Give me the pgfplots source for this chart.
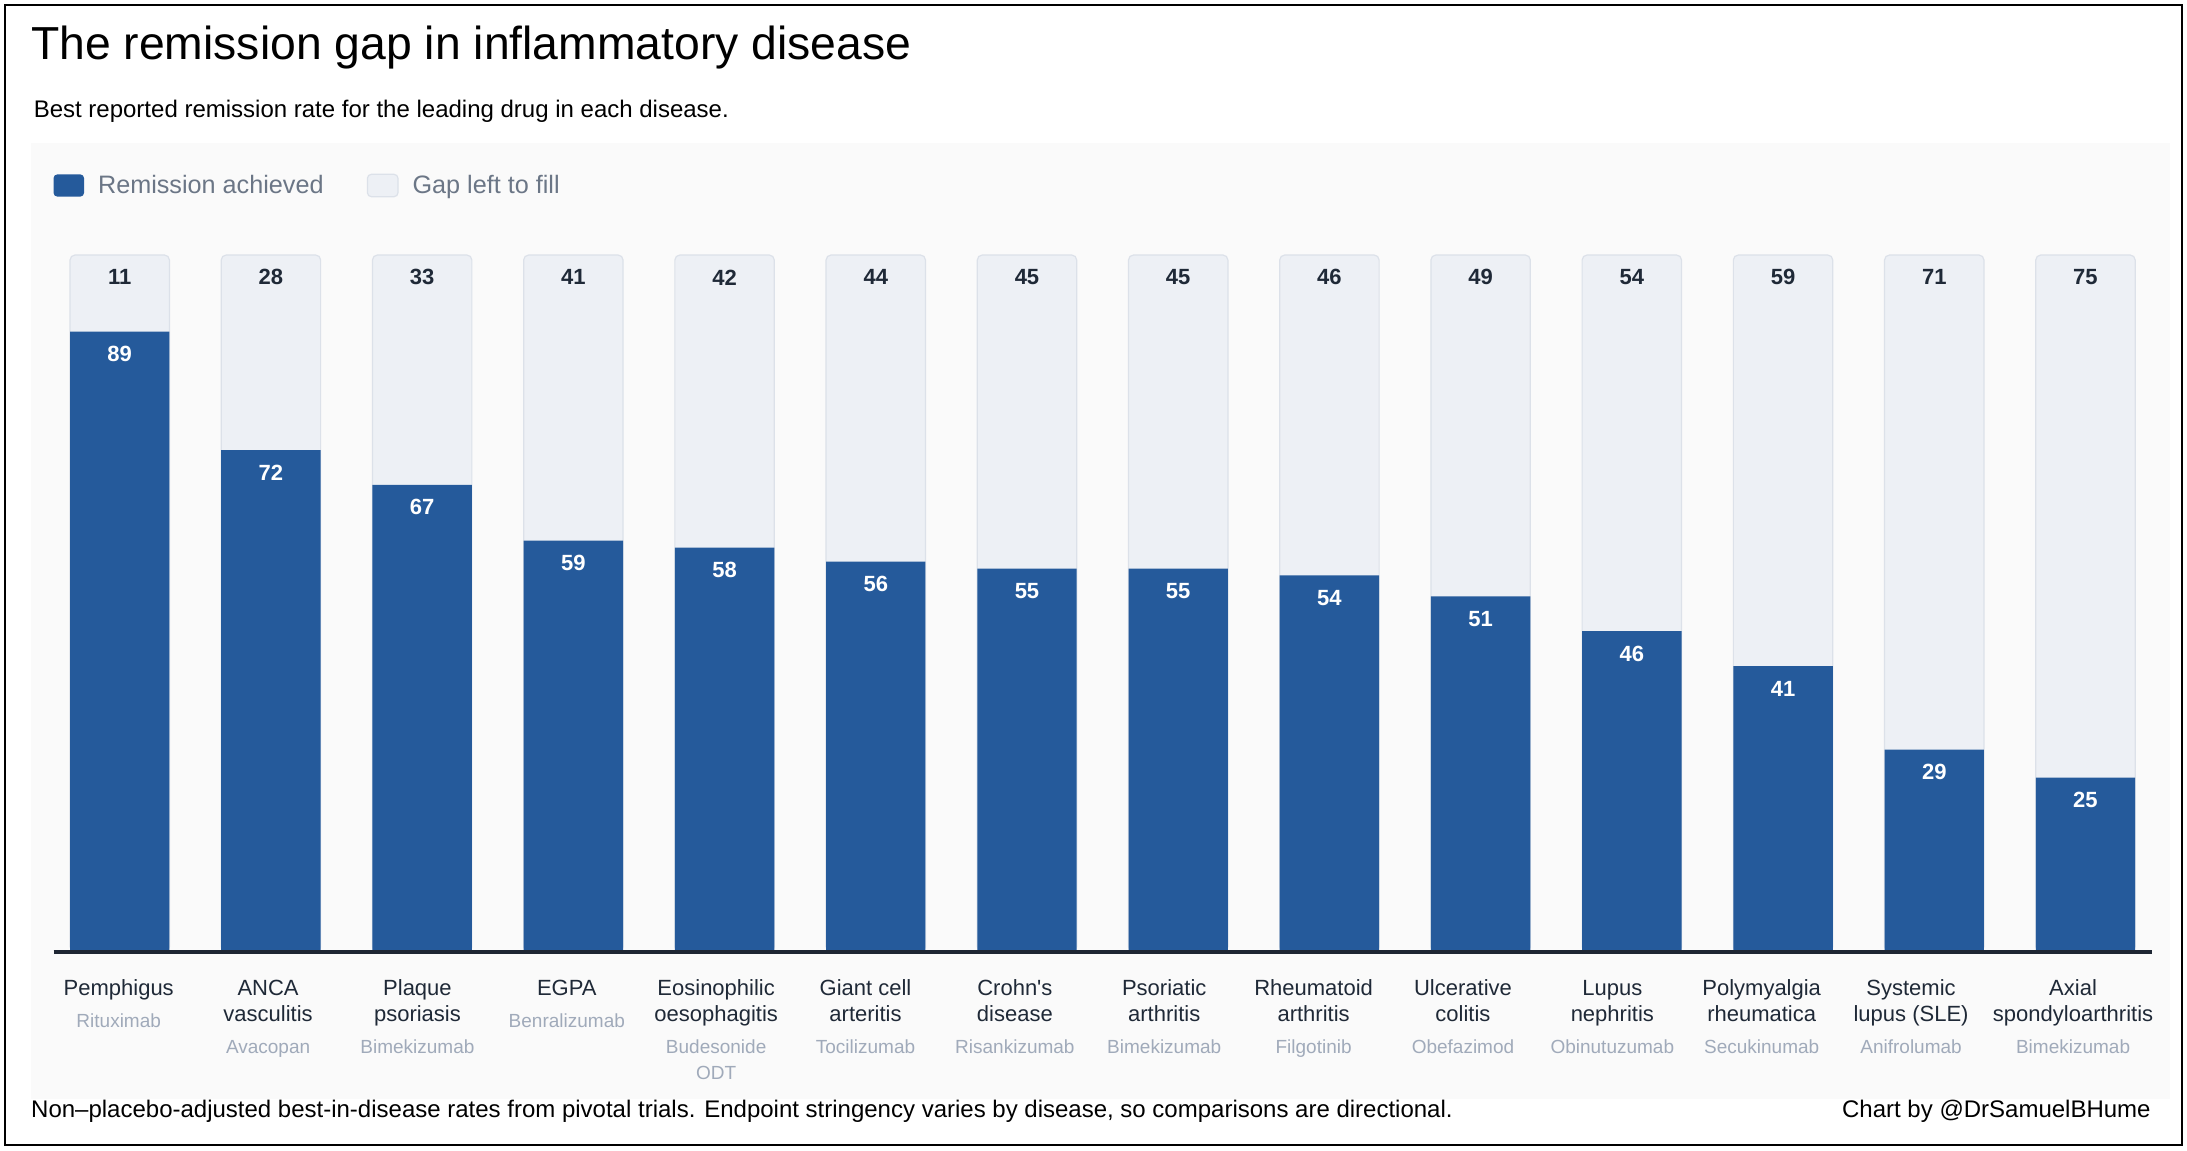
\documentclass[border=0pt]{standalone}
\usepackage{pgfplots}
\pgfplotsset{compat=1.18}
\usepackage{pgfplotstable}
\usepackage{fontspec}
\setmainfont{Liberation Sans}[Ligatures=TeXOff]
\definecolor{barblue}{HTML}{255A9B}
\definecolor{gapfill}{HTML}{EDF0F5}
\definecolor{gapdraw}{HTML}{DCE1E9}
\definecolor{panel}{HTML}{FAFAFA}
\definecolor{axisdark}{HTML}{1E2633}
\definecolor{labdark}{HTML}{1F2937}
\definecolor{druggray}{HTML}{A0AABA}
\definecolor{leggray}{HTML}{6B7686}

\pgfplotstableread{
x rem gap
0 89 11
1 72 28
2 67 33
3 59 41
4 58 42
5 56 44
6 55 45
7 55 45
8 54 46
9 51 49
10 46 54
11 41 59
12 29 71
13 25 75
}\data

\newcommand{\drug}{\fontsize{9.5}{12}\selectfont\color{druggray}}
\newcommand{\st}{\rule{0pt}{9pt}}

\begin{document}
\begin{tikzpicture}
\path (0,0) rectangle (1093.5pt,-575pt);
\fill[white] (0,0) rectangle (1093.5pt,-575pt);
\fill[panel] (15.35pt,-71.3pt) rectangle (1085pt,-549.5pt);
\draw[black, line width=1.3pt] (2.5pt,-2.5pt) rectangle (1091pt,-572.5pt);
\node[anchor=base west, inner sep=0pt, font=\fontsize{23.15}{28}\selectfont, text=black] at (15.4pt,-29.6pt) {The remission gap in inflammatory disease};
\node[anchor=base west, inner sep=0pt, font=\fontsize{12}{14}\selectfont, text=black] at (16.7pt,-58.6pt) {Best reported remission rate for the leading drug in each disease.};
\node[anchor=base west, inner sep=0pt, font=\fontsize{12}{14}\selectfont, text=black] at (15.4pt,-558.7pt) {Non–placebo-adjusted best-in-disease rates from pivotal trials. Endpoint stringency varies by disease, so comparisons are directional.};
\node[anchor=base east, inner sep=0pt, font=\fontsize{12}{14}\selectfont, text=black] at (1075.5pt,-558.7pt) {Chart by @DrSamuelBHume};

\begin{axis}[
  at={(26.75pt,-475.85pt)}, anchor=south west,
  scale only axis,
  width=1049.25pt, height=348.35pt,
  xmin=-0.438, xmax=13.44,
  ymin=0, ymax=100,
  clip=false,
  axis on top=true,
  axis x line*=bottom,
  hide y axis,
  axis line style={draw=axisdark, line width=2pt},
  major tick length=0pt,
  xtick={-0.0066,0.9812,1.9689,2.9567,3.9444,4.9322,5.9200,6.9077,7.8955,8.8833,9.8710,10.8588,11.8466,12.918},
  xticklabel style={font=\fontsize{11}{13}\selectfont, text=labdark, align=center, inner sep=0pt, anchor=north, yshift=-12.85pt},
  xticklabels={
    {\st Pemphigus\\[3pt]\drug Rituximab},
    {\st ANCA\\vasculitis\\[3pt]\drug Avacopan},
    {\st Plaque\\psoriasis\\[3pt]\drug Bimekizumab},
    {\st EGPA\\[3pt]\drug Benralizumab},
    {\st Eosinophilic\\oesophagitis\\[3pt]\drug Budesonide\\\drug ODT},
    {\st Giant cell\\arteritis\\[3pt]\drug Tocilizumab},
    {\st Crohn's\\disease\\[3pt]\drug Risankizumab},
    {\st Psoriatic\\arthritis\\[3pt]\drug Bimekizumab},
    {\st Rheumatoid\\arthritis\\[3pt]\drug Filgotinib},
    {\st Ulcerative\\colitis\\[3pt]\drug Obefazimod},
    {\st Lupus\\nephritis\\[3pt]\drug Obinutuzumab},
    {\st Polymyalgia\\rheumatica\\[3pt]\drug Secukinumab},
    {\st Systemic\\lupus (SLE)\\[3pt]\drug Anifrolumab},
    {\st Axial\\spondyloarthritis\\[3pt]\drug Bimekizumab}
  },
  legend columns=2,
  reverse legend,
  legend cell align=left,
  legend style={at={(0,1)}, anchor=west, yshift=34.75pt, draw=none, fill=none,
    inner sep=0pt, outer sep=0pt, font=\fontsize{12.6}{15}\selectfont, text=leggray,
    nodes={inner sep=0pt},
    /tikz/every even column/.append style={column sep=21.6pt},
    /tikz/every odd column/.append style={column sep=7pt}},
]
\addplot[ybar, bar width=49.7pt, bar shift=0pt, fill=gapfill, draw=gapdraw, line width=0.6pt, rounded corners=2.5pt,
  point meta=explicit symbolic,
  nodes near coords={\bfseries\pgfplotspointmeta},
  every node near coord/.append style={anchor=center, yshift=-11.2pt, font=\fontsize{11}{13}\selectfont, text=labdark},
  legend image code/.code={\draw[fill=gapfill, draw=gapdraw, line width=0.6pt, rounded corners=2pt] (0pt,-5.6pt) rectangle (15.3pt,5.6pt);}]
  table[x=x, y expr=\thisrow{rem}+\thisrow{gap}, meta=gap] {\data};
\addlegendentry{Gap left to fill}
\addplot[ybar, bar width=49.7pt, bar shift=0pt, fill=barblue, draw=none,
  point meta=explicit symbolic,
  nodes near coords={\bfseries\pgfplotspointmeta},
  every node near coord/.append style={anchor=center, yshift=-11.2pt, font=\fontsize{11}{13}\selectfont, text=white},
  legend image code/.code={\fill[barblue, rounded corners=2pt] (0pt,-5.6pt) rectangle (15.3pt,5.6pt);}]
  table[x=x, y=rem, meta=rem] {\data};
\addlegendentry{Remission achieved}
\end{axis}
\end{tikzpicture}
\end{document}
